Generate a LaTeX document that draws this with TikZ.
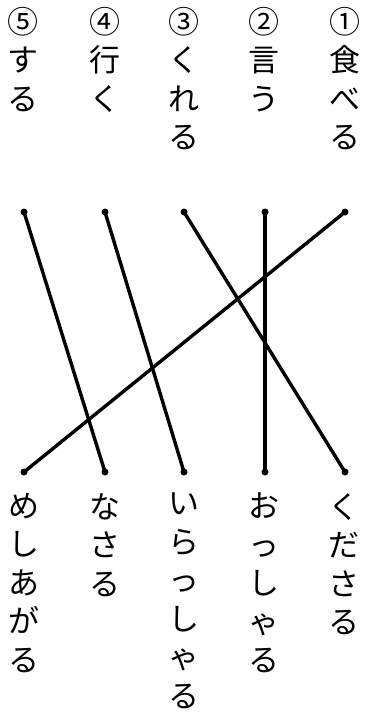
\documentclass[tikz,border=0pt]{standalone}
\usepackage{fontspec}
\newfontfamily\jp{Noto Sans CJK JP}
\begin{document}
\begin{tikzpicture}[x=1pt,y=-1pt,
  vtext/.style={font=\jp\fontsize{31}{38.5}\selectfont, align=center, anchor=north, inner sep=0pt},
  dot/.style={circle, fill=black, inner sep=0pt, minimum size=7pt},
  link/.style={line width=3.4pt}]
\useasboundingbox (0,0) rectangle (365,715);
% top words
\node[vtext] (w1) at (345,7) {①\\食\\べ\\る};
\node[vtext] (w2) at (264,7) {②\\言\\う};
\node[vtext] (w3) at (184,7) {③\\く\\れ\\る};
\node[vtext] (w4) at (105,7) {④\\行\\く};
\node[vtext] (w5) at (23,7) {⑤\\す\\る};
% bottom words
\node[vtext] (h1) at (344,493) {く\\だ\\さ\\る};
\node[vtext] (h2) at (264,493) {お\\っ\\し\\ゃ\\る};
\node[vtext] (h3) at (184,493) {い\\ら\\っ\\し\\ゃ\\る};
\node[vtext] (h4) at (105,493) {な\\さ\\る};
\node[vtext] (h5) at (24,493) {め\\し\\あ\\が\\る};
% dots
\node[dot] (t1) at (345,212) {};
\node[dot] (t2) at (265,212) {};
\node[dot] (t3) at (184,212) {};
\node[dot] (t4) at (105,212) {};
\node[dot] (t5) at (24,212) {};
\node[dot] (b1) at (345,472) {};
\node[dot] (b2) at (265,472) {};
\node[dot] (b3) at (184,472) {};
\node[dot] (b4) at (105,472) {};
\node[dot] (b5) at (24,472) {};
% links
\draw[link] (t1.center) -- (b5.center);
\draw[link] (t2.center) -- (b2.center);
\draw[link] (t3.center) -- (b1.center);
\draw[link] (t4.center) -- (b3.center);
\draw[link] (t5.center) -- (b4.center);
\end{tikzpicture}
\end{document}
